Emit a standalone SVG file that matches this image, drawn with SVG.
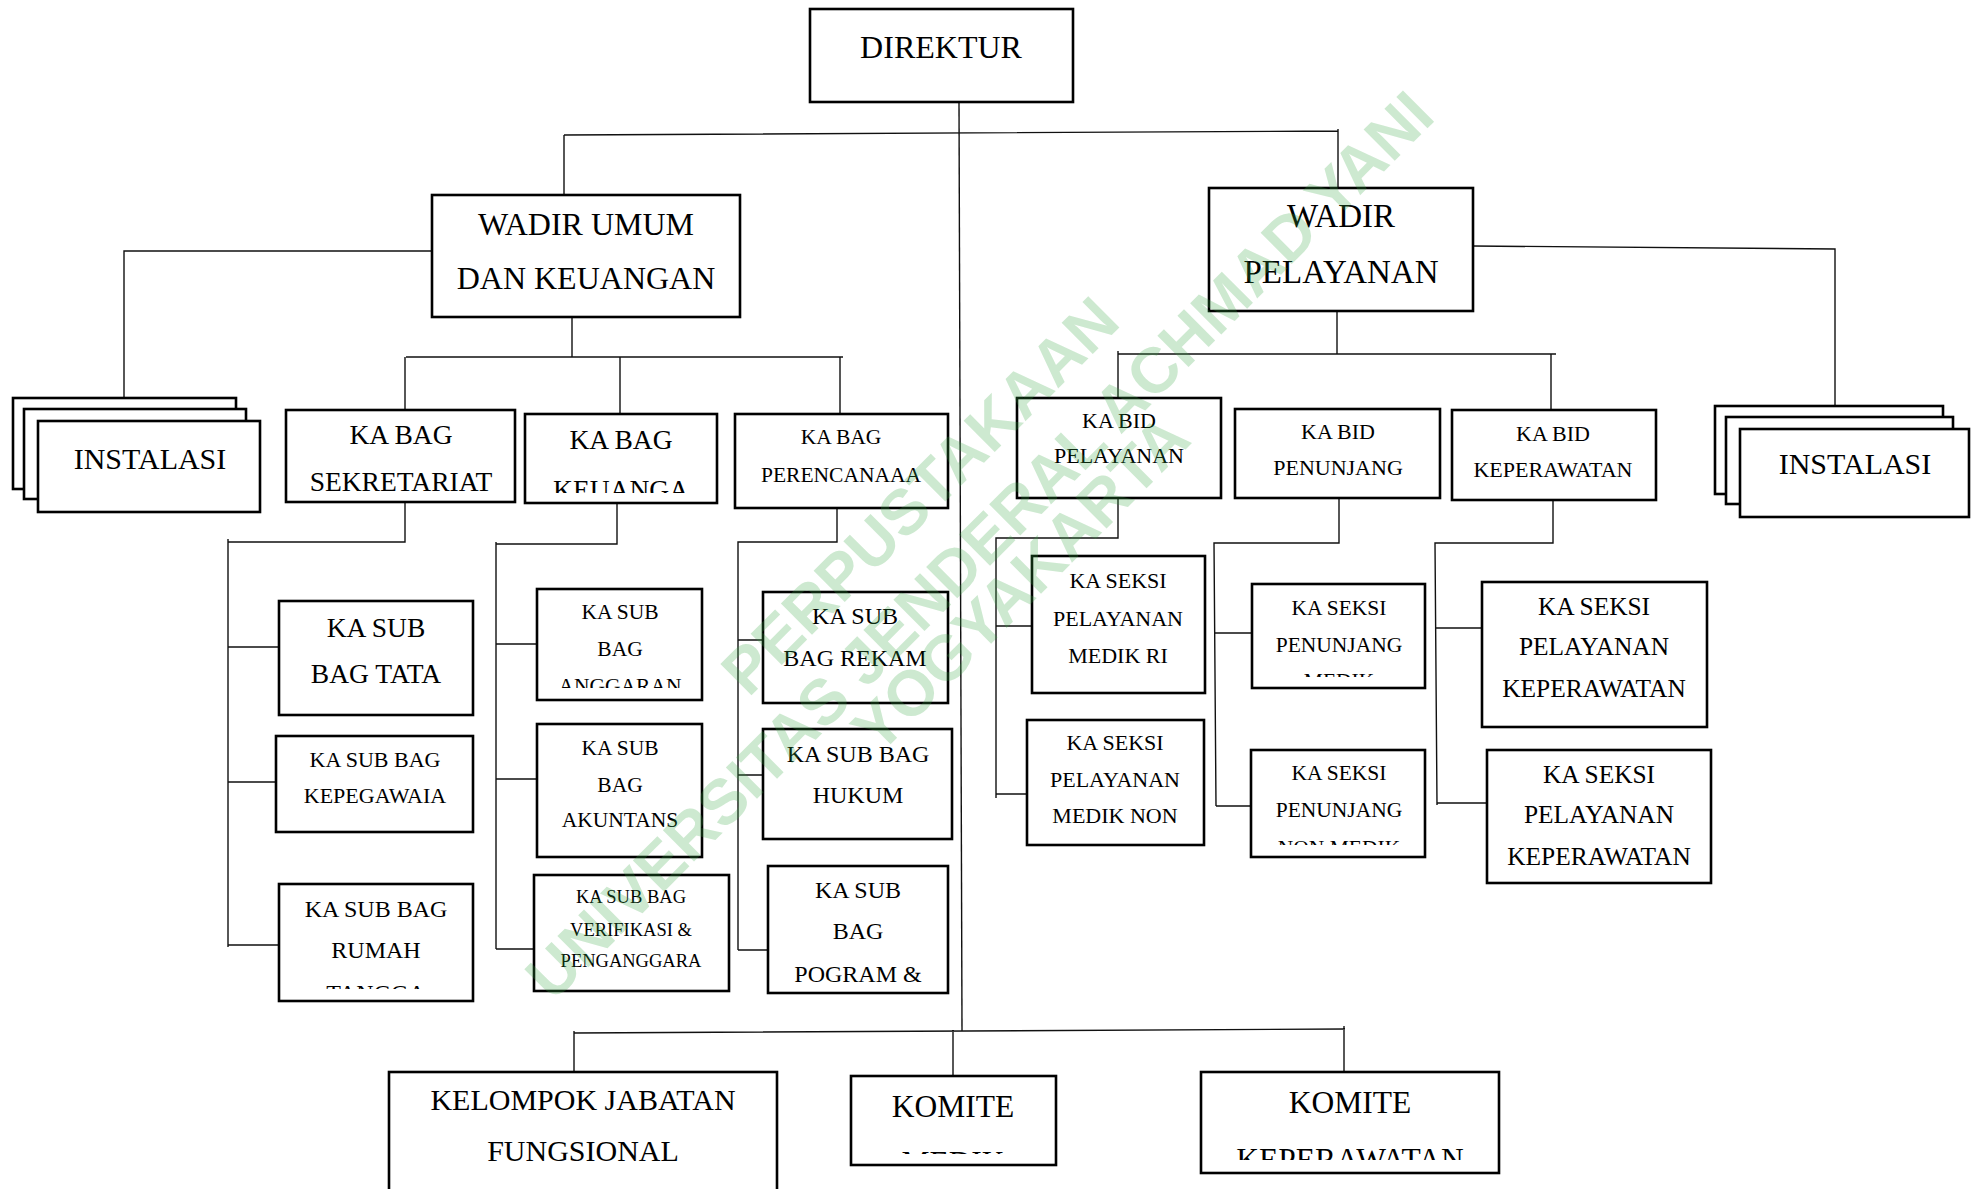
<svg xmlns="http://www.w3.org/2000/svg" width="1973" height="1189" viewBox="0 0 1973 1189">
<style>
.box{fill:#fff;stroke:#000;stroke-width:2.6}
.ln{fill:none;stroke:#111;stroke-width:1.4}
.t{font-family:"Liberation Serif","Times New Roman",serif;fill:#000;text-anchor:middle}
.f33{font-size:33px}.f32{font-size:32px}.f31{font-size:31.5px}.f30{font-size:30px}.f27{font-size:27.5px}.f25{font-size:25.4px}.f24{font-size:24px}.f22{font-size:22px}.f21{font-size:21.5px}.f18{font-size:18.5px}
.wm{font-family:"Liberation Sans",Arial,sans-serif;font-weight:bold;font-size:64px;fill:#39a845;fill-opacity:0.25;text-anchor:middle}
</style>
<defs>
<clipPath id="c-keu"><rect x="525" y="414" width="192" height="79"/></clipPath>
<clipPath id="c-ang"><rect x="537" y="589" width="165" height="99"/></clipPath>
<clipPath id="c-rt"><rect x="279" y="884" width="194" height="105"/></clipPath>
<clipPath id="c-pm"><rect x="1252" y="584" width="173" height="93"/></clipPath>
<clipPath id="c-pnm"><rect x="1251" y="750" width="174" height="95"/></clipPath>
<clipPath id="c-km"><rect x="851" y="1076" width="205" height="78"/></clipPath>
<clipPath id="c-kk"><rect x="1201" y="1072" width="298" height="88"/></clipPath>
</defs>
<rect width="1973" height="1189" fill="#fff"/>

<g id="connectors">
<path class="ln" d="M959 102 L962 1031"/>
<path class="ln" d="M564 135 L1338 131 M564 135 V195 M1338 129 V188"/>
<path class="ln" d="M432 251 H124 V398"/>
<path class="ln" d="M572 317 V357 M406 357 H843 M405 357 V410 M620 357 V414 M840 357 V414"/>
<path class="ln" d="M1473 246 L1835 249 V406"/>
<path class="ln" d="M1337 311 V354 M1118 354 H1556 M1118 351 V398 M1551 354 V410"/>
<path class="ln" d="M405 502 V542 H228 M228 539 V947 M228 647 H279 M228 782 H276 M228 945 H279"/>
<path class="ln" d="M617 503 V544 H496 M496 542 V949 M496 644 H537 M496 779 H537 M496 949 H534"/>
<path class="ln" d="M837 508 V542 H738 V950 M738 640 H763 M738 775 H763 M738 950 H768"/>
<path class="ln" d="M1118 498 V538 H996 V798 M996 626 H1032 M996 794 H1027"/>
<path class="ln" d="M1339 498 V543 H1214 L1216 806 M1215 633 H1252 M1216 806 H1251"/>
<path class="ln" d="M1553 500 V543 H1435 L1437 805 M1436 628 H1482 M1437 803 H1487"/>
<path class="ln" d="M574 1033 L1345 1029 M574 1031 V1072 M953 1030 V1076 M1344 1026 V1072"/>
</g>

<g id="direktur">
<rect class="box" x="810" y="9" width="263" height="93"/>
<text class="t f32" x="941" y="58">DIREKTUR</text>
</g>

<g id="wadir-umum">
<rect class="box" x="432" y="195" width="308" height="122"/>
<text class="t f32" x="586" y="235">WADIR UMUM</text>
<text class="t f32" x="586" y="289">DAN KEUANGAN</text>
</g>

<g id="wadir-pelayanan">
<rect class="box" x="1209" y="188" width="264" height="123"/>
<text class="t f33" x="1341" y="227">WADIR</text>
<text class="t f33" x="1341" y="283">PELAYANAN</text>
</g>

<g id="instalasi-kiri">
<rect class="box" x="13" y="398" width="223" height="91"/>
<rect class="box" x="24" y="409" width="222" height="90"/>
<rect class="box" x="38" y="421" width="222" height="91"/>
<text class="t f30" x="150" y="469">INSTALASI</text>
</g>

<g id="instalasi-kanan">
<rect class="box" x="1715" y="406" width="228" height="88"/>
<rect class="box" x="1726" y="417" width="227" height="87"/>
<rect class="box" x="1740" y="429" width="229" height="88"/>
<text class="t f30" x="1855" y="474">INSTALASI</text>
</g>

<g id="ka-bag-sekretariat">
<rect class="box" x="286" y="410" width="229" height="92"/>
<text class="t f27" x="401" y="444">KA BAG</text>
<text class="t f27" x="401" y="491">SEKRETARIAT</text>
</g>

<g id="ka-bag-keuangan">
<rect class="box" x="525" y="414" width="192" height="89"/>
<text class="t f27" x="621" y="449">KA BAG</text>
<text class="t f27" x="621" y="499" clip-path="url(#c-keu)">KEUANGA</text>
</g>

<g id="ka-bag-perencanaan">
<rect class="box" x="735" y="414" width="213" height="94"/>
<text class="t f21" x="841" y="444">KA BAG</text>
<text class="t f21" x="841" y="482">PERENCANAAA</text>
</g>

<g id="ka-bid-pelayanan">
<rect class="box" x="1017" y="398" width="204" height="100"/>
<text class="t f22" x="1119" y="428">KA BID</text>
<text class="t f22" x="1119" y="463">PELAYANAN</text>
</g>

<g id="ka-bid-penunjang">
<rect class="box" x="1235" y="409" width="205" height="89"/>
<text class="t f22" x="1338" y="439">KA BID</text>
<text class="t f22" x="1338" y="475">PENUNJANG</text>
</g>

<g id="ka-bid-keperawatan">
<rect class="box" x="1452" y="410" width="204" height="90"/>
<text class="t f22" x="1553" y="441">KA BID</text>
<text class="t f22" x="1553" y="477">KEPERAWATAN</text>
</g>

<g id="ka-sub-bag-tata">
<rect class="box" x="279" y="601" width="194" height="114"/>
<text class="t f27" x="376" y="637">KA SUB</text>
<text class="t f27" x="376" y="683">BAG TATA</text>
</g>

<g id="ka-sub-bag-kepegawaian">
<rect class="box" x="276" y="736" width="197" height="96"/>
<text class="t f22" x="375" y="767">KA SUB BAG</text>
<text class="t f22" x="375" y="803">KEPEGAWAIA</text>
</g>

<g id="ka-sub-bag-rumah-tangga">
<rect class="box" x="279" y="884" width="194" height="117"/>
<text class="t f24" x="376" y="917">KA SUB BAG</text>
<text class="t f24" x="376" y="958">RUMAH</text>
<text class="t f24" x="376" y="1001" clip-path="url(#c-rt)">TANGGA</text>
</g>

<g id="ka-sub-bag-anggaran">
<rect class="box" x="537" y="589" width="165" height="111"/>
<text class="t f21" x="620" y="619">KA SUB</text>
<text class="t f21" x="620" y="656">BAG</text>
<text class="t f21" x="620" y="693" clip-path="url(#c-ang)">ANGGARAN</text>
</g>

<g id="ka-sub-bag-akuntansi">
<rect class="box" x="537" y="724" width="165" height="133"/>
<text class="t f21" x="620" y="755">KA SUB</text>
<text class="t f21" x="620" y="792">BAG</text>
<text class="t f21" x="620" y="827">AKUNTANS</text>
</g>

<g id="ka-sub-bag-verifikasi">
<rect class="box" x="534" y="875" width="195" height="116"/>
<text class="t f18" x="631" y="903">KA SUB BAG</text>
<text class="t f18" x="631" y="936">VERIFIKASI &amp;</text>
<text class="t f18" x="631" y="967">PENGANGGARA</text>
</g>

<g id="ka-sub-bag-rekam">
<rect class="box" x="763" y="592" width="185" height="111"/>
<text class="t f24" x="855" y="624">KA SUB</text>
<text class="t f24" x="855" y="666">BAG REKAM</text>
</g>

<g id="ka-sub-bag-hukum">
<rect class="box" x="763" y="729" width="189" height="110"/>
<text class="t f24" x="858" y="762">KA SUB BAG</text>
<text class="t f24" x="858" y="803">HUKUM</text>
</g>

<g id="ka-sub-bag-program">
<rect class="box" x="768" y="866" width="180" height="127"/>
<text class="t f24" x="858" y="898">KA SUB</text>
<text class="t f24" x="858" y="939">BAG</text>
<text class="t f24" x="858" y="982">POGRAM &amp;</text>
</g>

<g id="ka-seksi-medik-ri">
<rect class="box" x="1032" y="556" width="173" height="137"/>
<text class="t f22" x="1118" y="588">KA SEKSI</text>
<text class="t f22" x="1118" y="626">PELAYANAN</text>
<text class="t f22" x="1118" y="663">MEDIK RI</text>
</g>

<g id="ka-seksi-medik-non">
<rect class="box" x="1027" y="720" width="177" height="125"/>
<text class="t f22" x="1115" y="750">KA SEKSI</text>
<text class="t f22" x="1115" y="787">PELAYANAN</text>
<text class="t f22" x="1115" y="823">MEDIK NON</text>
</g>

<g id="ka-seksi-penunjang-medik">
<rect class="box" x="1252" y="584" width="173" height="104"/>
<text class="t f21" x="1339" y="615">KA SEKSI</text>
<text class="t f21" x="1339" y="652">PENUNJANG</text>
<text class="t f21" x="1339" y="688" clip-path="url(#c-pm)">MEDIK</text>
</g>

<g id="ka-seksi-penunjang-non-medik">
<rect class="box" x="1251" y="750" width="174" height="107"/>
<text class="t f21" x="1339" y="780">KA SEKSI</text>
<text class="t f21" x="1339" y="817">PENUNJANG</text>
<text class="t f21" x="1339" y="855" clip-path="url(#c-pnm)">NON MEDIK</text>
</g>

<g id="ka-seksi-keperawatan-1">
<rect class="box" x="1482" y="582" width="225" height="145"/>
<text class="t f25" x="1594" y="615">KA SEKSI</text>
<text class="t f25" x="1594" y="655">PELAYANAN</text>
<text class="t f25" x="1594" y="697">KEPERAWATAN</text>
</g>

<g id="ka-seksi-keperawatan-2">
<rect class="box" x="1487" y="750" width="224" height="133"/>
<text class="t f25" x="1599" y="783">KA SEKSI</text>
<text class="t f25" x="1599" y="823">PELAYANAN</text>
<text class="t f25" x="1599" y="865">KEPERAWATAN</text>
</g>

<g id="kelompok-jabatan-fungsional">
<rect class="box" x="389" y="1072" width="388" height="130"/>
<text class="t f30" x="583" y="1110">KELOMPOK JABATAN</text>
<text class="t f30" x="583" y="1161">FUNGSIONAL</text>
</g>

<g id="komite-medik">
<rect class="box" x="851" y="1076" width="205" height="89"/>
<text class="t f31" x="953" y="1117">KOMITE</text>
<text class="t f31" x="953" y="1173" clip-path="url(#c-km)">MEDIK</text>
</g>

<g id="komite-keperawatan">
<rect class="box" x="1201" y="1072" width="298" height="101"/>
<text class="t f31" x="1350" y="1113">KOMITE</text>
<text class="t f31" x="1350" y="1170" clip-path="url(#c-kk)">KEPERAWATAN</text>
</g>

<g id="watermark" transform="rotate(-45)">
<text class="wm" x="300" y="1023">PERPUSTAKAAN</text>
<text class="wm" x="307" y="1100">UNIVERSITAS JENDERAL ACHMAD YANI</text>
<text class="wm" x="309" y="1156">YOGYAKARTA</text>
</g>
</svg>
